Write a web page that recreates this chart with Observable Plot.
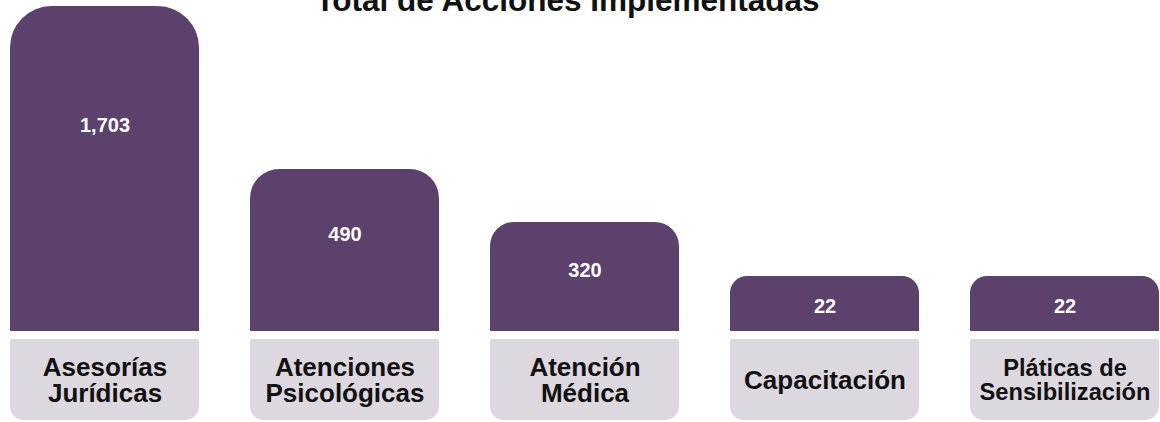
<!DOCTYPE html>
<html>
<head>
<meta charset="utf-8">
<script src="https://cdn.jsdelivr.net/npm/d3@7"></script>
<script src="https://cdn.jsdelivr.net/npm/@observablehq/plot@0.6"></script>
<style>
  html, body { margin: 0; padding: 0; background: #fff; }
  #chart svg { display: block; }
</style>
</head>
<body>
<div id="chart"></div>
<script>
const title = "Total de Acciones Implementadas";
const categories = ["Asesorías\nJurídicas", "Atenciones\nPsicológicas", "Atención\nMédica", "Capacitación", "Pláticas de\nSensibilización"];
const values = [1703, 490, 320, 22, 22];

const barColor = "#5c416c";
const boxColor = "#ddd7e0";
const font = "'Liberation Sans', Arial, Helvetica, sans-serif";

const data = categories.map((c, i) => ({cat: c, value: values[i]}));

// The infographic's bar heights are not proportional to the values:
// a piecewise-linear transform is applied before Plot's linear y scale.
const yBreaks = [0, ...Array.from(new Set(values)).sort((a, b) => a - b)];
const yLevels = [0, 55, 109, 162, 325];
const warp = d3.scaleLinear().domain(yBreaks).range(yLevels);
const yTop = 6, yBottom = 331;
const pxPerLevel = (yBottom - yTop) / d3.max(yLevels);
const pxHeight = d => warp(d.value) * pxPerLevel;
const radius = d => 2.3 * Math.sqrt(pxHeight(d));
// value label sits a little below the top of each bar
const labelY = d => warp.invert(warp(d.value) - (0.33 * pxHeight(d) + 12) / pxPerLevel);

const barMarks = data.flatMap(d => [
  Plot.barY([d], {x: "cat", y: "value", fill: barColor, rx: radius(d)}),
  Plot.barY([d], {x: "cat", y: "value", fill: barColor, insetTop: radius(d)})
]);

const chart = Plot.plot({
  width: 1160,
  height: 422,
  marginTop: 0, marginBottom: 0, marginLeft: 0, marginRight: 0,
  style: {fontFamily: font, background: "#fff"},
  x: {type: "band", domain: categories, range: [8, 1162], paddingInner: 0.2116, paddingOuter: 0, axis: null},
  y: {transform: warp, domain: [0, d3.max(yLevels)], range: [yBottom, yTop], axis: null},
  marks: [
    ...barMarks,
    Plot.text(data, {
      x: "cat", y: labelY, text: d => d3.format(",")(d.value),
      fill: "#fff", fontWeight: "bold", fontSize: 20, fontFamily: font, lineAnchor: "middle"
    }),
    Plot.cell(data, {x: "cat", fill: boxColor, insetTop: 339, insetBottom: 2, rx: 14}),
    Plot.cell(data, {x: "cat", fill: boxColor, insetTop: 339, insetBottom: 40, rx: 3}),
    Plot.text(data, {
      x: "cat", frameAnchor: "bottom", dy: -42, text: "cat",
      lineAnchor: "middle", lineHeight: 1.02,
      fontSize: d => Math.min(26, 355 / d3.max(d.cat.split("\n"), s => s.length)),
      fontWeight: "bold", fill: "#111", fontFamily: font
    }),
    Plot.text([title], {
      frameAnchor: "top", text: d => d, dx: -13, dy: 10, lineAnchor: "bottom",
      fontSize: 31.5, fontWeight: "bold", fill: "#111", fontFamily: font
    })
  ]
});
document.getElementById("chart").appendChild(chart);
</script>
</body>
</html>
